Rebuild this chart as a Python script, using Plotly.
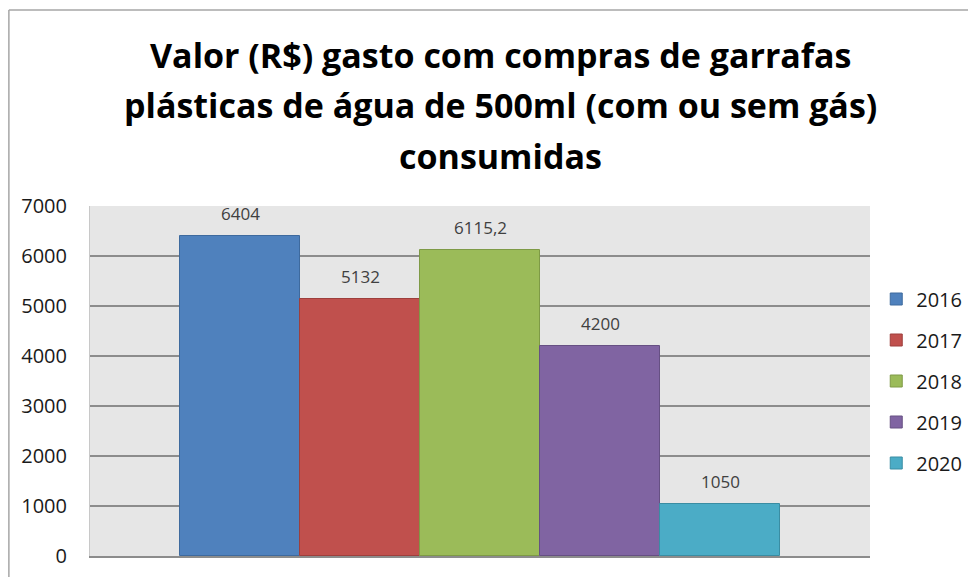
import plotly.graph_objects as go

# chart data
years = ["2016", "2017", "2018", "2019", "2020"]
values = [6404, 5132, 6115.2, 4200, 1050]
labels = ["6404", "5132", "6115,2", "4200", "1050"]
colors = ["#4F81BD", "#C0504D", "#9BBB59", "#8064A2", "#4BACC6"]
edge_colors = ["#3E6A9E", "#9E3F3C", "#7E9A46", "#665083", "#3A8DA3"]
y_ticks = [0, 1000, 2000, 3000, 4000, 5000, 6000, 7000]

title_lines = ["Valor (R$) gasto com compras de garrafas",
               "plásticas de água de 500ml (com ou sem gás)",
               "consumidas"]

fig = go.Figure()
for i, yr in enumerate(years):
    fig.add_trace(go.Bar(x=[yr], y=[values[i]], name=yr,
                         marker=dict(color=colors[i], line=dict(color=edge_colors[i], width=1)),
                         legendgroup=yr, width=1))
    # data label above each bar (x given as category index)
    fig.add_annotation(x=i, y=values[i], text=labels[i], showarrow=False,
                       yanchor="bottom", yshift=9,
                       font=dict(family="Open Sans", size=17, color="#404040"))

# title, one line per annotation to keep the wide line spacing
for j, line in enumerate(title_lines):
    fig.add_annotation(x=0.526, y=1.432 - j * 0.1445, xref="paper", yref="paper",
                       text=line, showarrow=False, xanchor="center", yanchor="middle",
                       font=dict(family="Open Sans", size=34, color="black", weight="bold"))

# frame of the original chart (cut at right/bottom)
fig.add_shape(type="line", xref="paper", yref="paper", x0=-0.104, x1=1.2, y0=1.56, y1=1.56,
              line=dict(color="#A6A6A6", width=1.5))
fig.add_shape(type="line", xref="paper", yref="paper", x0=-0.104, x1=-0.104, y0=1.56, y1=-0.1,
              line=dict(color="#A6A6A6", width=1.5))

fig.update_layout(
    width=968, height=569,
    margin=dict(l=82, r=106, t=198, b=21, autoexpand=False),
    paper_bgcolor="white", plot_bgcolor="#E6E6E6",
    barmode="overlay", bargap=0,
    xaxis=dict(type="category", range=[-1.25, 5.25], showticklabels=False, showgrid=False,
               zeroline=False, showline=True, linecolor="#8C8C8C", linewidth=1.5),
    yaxis=dict(range=[0, 7000], tickvals=y_ticks, showgrid=True, gridcolor="#8C8C8C", gridwidth=1.5,
               zeroline=False, showline=True, linecolor="#C8C8C8", linewidth=1,
               ticklabelstandoff=18,
               tickfont=dict(family="Open Sans", size=20, color="#1A1A1A")),
    legend=dict(x=1.008, xanchor="left", y=0.5, yanchor="middle", traceorder="grouped",
                tracegroupgap=12, itemwidth=30,
                font=dict(family="Open Sans", size=20, color="#1A1A1A")),
    showlegend=True,
)

fig.write_html("out.html")
